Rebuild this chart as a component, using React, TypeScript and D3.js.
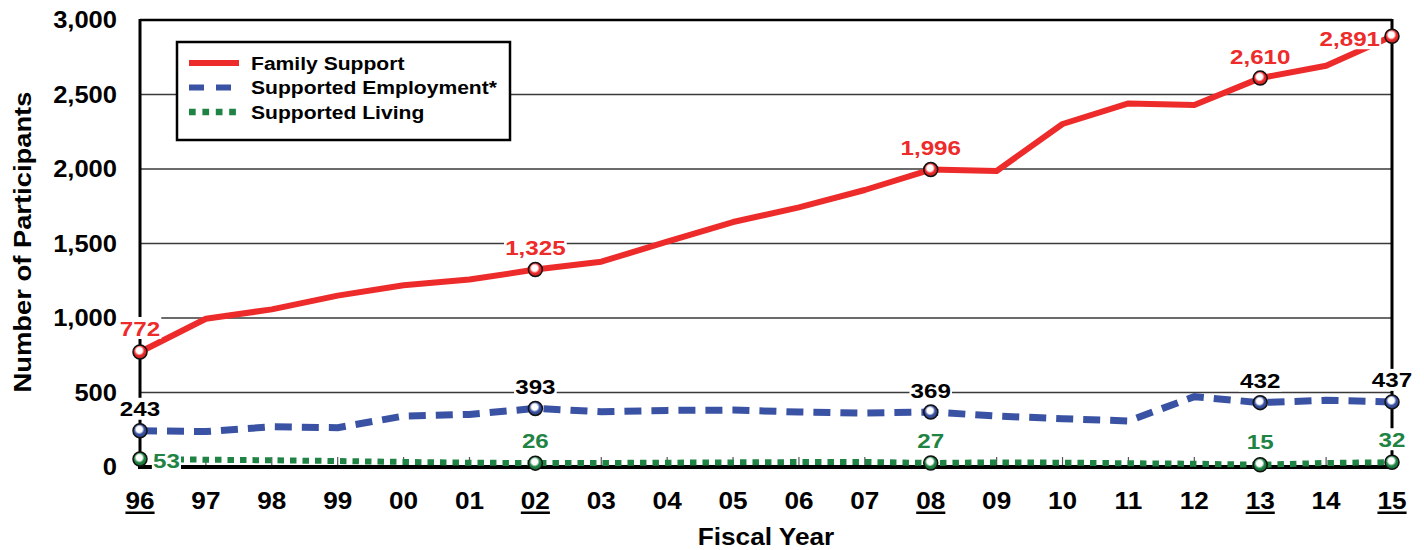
import React, { useEffect, useRef } from "react";
import * as d3 from "d3";

const years = ["96","97","98","99","00","01","02","03","04","05","06","07","08","09","10","11","12","13","14","15"];
const underlined = ["96","02","08","13","15"];
const familySupport = [772,995,1058,1150,1220,1258,1325,1378,1512,1644,1742,1859,1996,1987,2302,2440,2430,2610,2693,2891];
const supportedEmployment = [243,238,270,264,342,353,393,371,380,382,369,362,369,342,324,309,472,432,448,437];
const supportedLiving = [53,49,45,40,34,29,26,27,29,31,33,34,27,31,29,25,22,15,27,32];
const yTicks = [0,500,1000,1500,2000,2500,3000];
const labeledIdx = [0,6,12,17,19];

const FONT = "'Liberation Sans', Arial, Helvetica, sans-serif";
const RED = "#ee2b2b";
const BLUE = "#3a52a3";
const GREEN = "#1f8443";

type Sel = d3.Selection<any, any, any, any>;

// text horizontally stretched around its anchor point
function sText(parent: Sel, x: number, y: number, txt: string, size: number, sx: number, anchor = "middle", fill = "#000", rotate = 0) {
  const g = parent.append("g").attr("transform", `translate(${x},${y}) rotate(${rotate}) scale(${sx},1)`);
  const t = g.append("text").attr("x", 0).attr("y", 0).attr("dy", "0.36em").attr("text-anchor", anchor)
    .attr("font-family", FONT).attr("font-weight", "bold").attr("font-size", size).attr("fill", fill).text(txt);
  return { g, t };
}

export default function App() {
  const ref = useRef<SVGSVGElement>(null);
  useEffect(() => {
    document.body.style.margin = "0";
    const svg = d3.select(ref.current);
    svg.selectAll("*").remove();
    const W = 1424, H = 550;
    const x0 = 140, x1 = 1392, yTop = 20, yBot = 467;
    const x = d3.scalePoint<string>().domain(years).range([x0, x1]);
    const y = d3.scaleLinear().domain([0, 3000]).range([yBot, yTop]);

    const defs = svg.append("defs");
    const mk = (id: string, c: string) => {
      const g = defs.append("radialGradient").attr("id", id).attr("cx", "45%").attr("cy", "40%").attr("r", "60%");
      g.append("stop").attr("offset", "0%").attr("stop-color", "#fff");
      g.append("stop").attr("offset", "35%").attr("stop-color", "#fff");
      g.append("stop").attr("offset", "60%").attr("stop-color", c);
      g.append("stop").attr("offset", "100%").attr("stop-color", d3.color(c)!.darker(0.6).toString());
    };
    mk("gRed", RED); mk("gBlue", BLUE); mk("gGreen", GREEN);

    svg.append("rect").attr("width", W).attr("height", H).attr("fill", "#fff");

    // gridlines
    svg.append("g").selectAll("line").data(yTicks.filter(t => t > 0 && t < 3000)).join("line")
      .attr("x1", x0).attr("x2", x1).attr("y1", d => y(d)).attr("y2", d => y(d))
      .attr("stroke", "#3a3a3a").attr("stroke-width", 1.3);

    // ticks at bottom
    svg.append("g").selectAll("line").data(years).join("line")
      .attr("x1", d => x(d)!).attr("x2", d => x(d)!).attr("y1", yBot - 10).attr("y2", yBot)
      .attr("stroke", "#555").attr("stroke-width", 1.2);

    // frame
    svg.append("line").attr("x1", x0).attr("x2", x1).attr("y1", yTop).attr("y2", yTop).attr("stroke", "#000").attr("stroke-width", 2.5);
    svg.append("line").attr("x1", x0).attr("x2", x0).attr("y1", yTop - 1).attr("y2", yBot).attr("stroke", "#000").attr("stroke-width", 3);
    svg.append("line").attr("x1", x1).attr("x2", x1).attr("y1", yTop - 1).attr("y2", yBot).attr("stroke", "#000").attr("stroke-width", 3);
    svg.append("line").attr("x1", x0 - 2).attr("x2", x1 + 1.5).attr("y1", yBot).attr("y2", yBot).attr("stroke", "#000").attr("stroke-width", 4);

    // y tick labels
    const yl = svg.append("g");
    yTicks.forEach(v => sText(yl, 117, y(v), d3.format(",")(v), 23, 1.11, "end"));

    // x tick labels
    const xl = svg.append("g");
    years.forEach(yr => {
      const { g, t } = sText(xl, x(yr)!, 500, yr, 24, 1.09, "middle");
      if (underlined.includes(yr)) {
        const bb = (t.node() as SVGTextElement).getBBox();
        g.append("rect").attr("x", bb.x).attr("y", 11.5).attr("width", bb.width).attr("height", 2.5).attr("fill", "#000");
      }
    });

    sText(svg, 766, 537, "Fiscal Year", 23, 1.14, "middle");
    sText(svg, 22, 242, "Number of Participants", 24, 1.14, "middle", "#000", -90);

    // series lines
    const line = d3.line<number>().x((_, i) => x(years[i])!).y(d => y(d));
    svg.append("path").datum(supportedLiving).attr("d", line).attr("fill", "none").attr("stroke", GREEN)
      .attr("stroke-width", 6).attr("stroke-dasharray", "6.5 6");
    svg.append("path").datum(supportedEmployment).attr("d", line).attr("fill", "none").attr("stroke", BLUE)
      .attr("stroke-width", 7).attr("stroke-dasharray", "17 10");
    svg.append("path").datum(familySupport).attr("d", line).attr("fill", "none").attr("stroke", RED)
      .attr("stroke-width", 6).attr("stroke-linejoin", "round");

    // data labels with white boxes
    type Lab = { txt: string; cx: number; cy: number; anchor: string; color: string };
    const labs: Lab[] = [];
    labeledIdx.forEach(i => {
      const xp = x(years[i])!;
      if (i === 19) labs.push({ txt: d3.format(",")(familySupport[i]), cx: xp - 12, cy: y(familySupport[i]) + 2, anchor: "end", color: RED });
      else labs.push({ txt: d3.format(",")(familySupport[i]), cx: xp, cy: y(familySupport[i]) - (i === 0 ? 24 : 22), anchor: "middle", color: RED });
      labs.push({ txt: d3.format(",")(supportedEmployment[i]), cx: xp, cy: y(supportedEmployment[i]) - 22, anchor: "middle", color: "#000" });
      if (i === 0) labs.push({ txt: String(supportedLiving[i]), cx: xp + 13, cy: y(supportedLiving[i]) + 1, anchor: "start", color: GREEN });
      else labs.push({ txt: String(supportedLiving[i]), cx: xp, cy: y(supportedLiving[i]) - 23, anchor: "middle", color: GREEN });
    });
    const lg = svg.append("g");
    labs.forEach(l => {
      const { g, t } = sText(lg, l.cx, l.cy, l.txt, 21, 1.15, l.anchor, l.color);
      const bb = (t.node() as SVGTextElement).getBBox();
      g.insert("rect", "text").attr("fill", "#fff").attr("x", bb.x - 1).attr("y", -11).attr("width", bb.width + 2).attr("height", 22);
    });

    // markers
    const markers = [
      { data: familySupport, g: "gRed" },
      { data: supportedEmployment, g: "gBlue" },
      { data: supportedLiving, g: "gGreen" },
    ];
    markers.forEach(m => {
      svg.append("g").selectAll("circle").data(labeledIdx).join("circle")
        .attr("cx", i => x(years[i])!).attr("cy", i => y(m.data[i])).attr("r", 7)
        .attr("fill", `url(#${m.g})`).attr("stroke", "#111").attr("stroke-width", 1.5);
    });

    // legend
    const leg = svg.append("g");
    leg.append("rect").attr("x", 177).attr("y", 42).attr("width", 333).attr("height", 98)
      .attr("fill", "#fff").attr("stroke", "#000").attr("stroke-width", 2.5);
    const items = [
      { name: "Family Support", color: RED, dash: null as string | null, w: 6 },
      { name: "Supported Employment*", color: BLUE, dash: "15 12", w: 6 },
      { name: "Supported Living", color: GREEN, dash: "6.7 6.7", w: 6.5 },
    ];
    items.forEach((it, k) => {
      const yy = 63 + k * 24.5;
      const ln = leg.append("line").attr("x1", 189).attr("x2", 239).attr("y1", yy).attr("y2", yy)
        .attr("stroke", it.color).attr("stroke-width", it.w);
      if (it.dash) ln.attr("stroke-dasharray", it.dash);
      sText(leg, 251, yy, it.name, 18.5, 1.14, "start");
    });
  }, []);
  return <svg ref={ref} width={1424} height={550} style={{ display: "block" }} />;
}
